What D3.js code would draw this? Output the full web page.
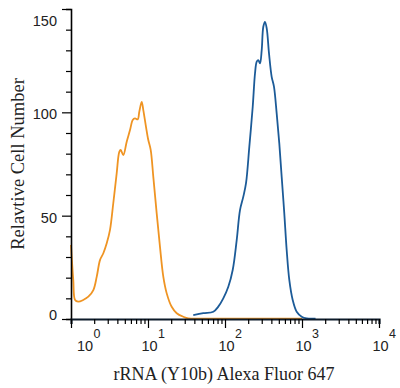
<!DOCTYPE html>
<html>
<head>
<meta charset="utf-8">
<script src="https://cdn.jsdelivr.net/npm/d3@7"></script>
<style>
  body { margin: 0; background: #fff; }
  svg { display: block; }
  .serif { font-family: "Liberation Serif", "Times New Roman", Times, serif; }
  .sans { font-family: "Liberation Sans", Arial, Helvetica, sans-serif; }
</style>
</head>
<body>
<svg id="chart" width="400" height="388"></svg>
<script>
// Orange histogram (control) : [intensity, cell count]
var orangeSeries = [
    [1.00, 35.8], [1.07, 18.9], [1.13, 9.2], [1.24, 8.4], [1.44, 9.2],
    [1.68, 10.8], [1.95, 14.0], [2.16, 20.5], [2.38, 28.5], [2.63, 31.8],
    [2.91, 36.6], [3.21, 43.1], [3.54, 56.0], [3.92, 70.5], [4.24, 80.9],
    [4.42, 81.8], [4.78, 79.3], [5.29, 85.8], [5.84, 91.4], [6.33, 96.3],
    [6.78, 97.1], [7.35, 96.6], [7.71, 100.3], [8.28, 105.1], [8.69, 101.1],
    [9.42, 93.0], [10.09, 86.6], [10.84, 81.8], [11.72, 68.8], [12.97, 51.1],
    [14.3, 35.0], [15.8, 20.5], [17.5, 12.4], [20.3, 5.9], [23.6, 2.8],
    [28.7, 1.1], [33.4, 0.3], [60, 0.2], [200, 0.2], [1000, 0.2]
];

// Blue histogram (stained)
var blueSeries = [
    [38.7, 1.9], [52.3, 2.8], [70.5, 3.5], [81.8, 6.0], [95.0, 10.0],
    [110.4, 15.6], [125.9, 23.7], [141.9, 38.2], [156.6, 52.7], [172.9, 59.2],
    [187.5, 65.7], [207.0, 83.4], [229.1, 102.7], [245.4, 118.9], [258.2, 124.5],
    [270.6, 125.3], [284.9, 123.7], [299.7, 130.1], [314.3, 141.4], [330.6, 143.8],
    [348.2, 140.6], [372.8, 128.5], [403.8, 117.2], [432.5, 112.4], [469.0, 99.5],
    [507.2, 85.0], [544.7, 68.8], [588.8, 51.1], [632.5, 33.4], [684.0, 18.9],
    [757.0, 9.2], [853.0, 3.5], [991, 1.1], [1151, 0.3], [1500, 0.2]
];

var xMajor = [1, 10, 100, 1000, 10000];
var yTicks = d3.range(0, 151, 10);
var yLabels = [0, 50, 100, 150];

var svg = d3.select("#chart");

// scales
var x = d3.scaleLog().domain([1, 10000]).range([71, 379]);
var y = d3.scaleLinear().domain([0, 150]).range([319, 9]);

var xMinor = [];
xMajor.slice(0, -1).forEach(function (d) {
    for (var k = 2; k < 10; k++) xMinor.push(d * k);
});

// curves
var line = d3.line()
    .x(d => x(d[0]))
    .y(d => y(d[1]))
    .curve(d3.curveCatmullRom.alpha(0.5));

svg.append("path")
    .datum(orangeSeries)
    .attr("fill", "none")
    .attr("stroke", "#ef9423")
    .attr("stroke-width", 1.8)
    .attr("d", line);

svg.append("path")
    .datum(blueSeries)
    .attr("fill", "none")
    .attr("stroke", "#1c5b98")
    .attr("stroke-width", 1.8)
    .attr("d", line);

// Y axis : major + minor ticks
var yAxisG = svg.append("g")
    .attr("transform", "translate(71,0)")
    .call(d3.axisLeft(y).tickValues(yTicks).tickSize(5).tickFormat(""));
yAxisG.selectAll(".tick line")
    .filter(d => d % 50 === 0)
    .attr("x2", -9);
yAxisG.select(".domain").attr("stroke-width", 1.6);
yAxisG.selectAll(".tick line").attr("stroke-width", 1.2);

svg.append("g")
    .selectAll("text")
    .data(yLabels)
    .join("text")
    .attr("class", "sans")
    .attr("x", 57)
    .attr("y", d => y(d) + (d === 150 ? 12 : d === 0 ? -4 : 2))
    .attr("dy", "0.35em")
    .attr("text-anchor", "end")
    .attr("font-size", 14.5)
    .attr("fill", "#222")
    .text(d => d);

// X axis : major + minor ticks
var xAxisG = svg.append("g")
    .attr("transform", "translate(0,319)")
    .call(d3.axisBottom(x).tickValues(xMajor.concat(xMinor)).tickSize(5).tickFormat(""));
xAxisG.selectAll(".tick line")
    .filter(d => xMajor.indexOf(d) >= 0)
    .attr("y2", 9);
xAxisG.select(".domain").attr("stroke-width", 2.2).attr("stroke", "#0d1b2a");
xAxisG.selectAll(".tick line").attr("stroke-width", 1.2);

// power-of-ten labels: base centred on tick, exponent raised to the right
var xLab = svg.append("g").attr("class", "sans")
    .attr("fill", "#222");
var labX = d => x(d) + (d === 1 ? 14 : 1.5);

xLab.selectAll("text.base")
    .data(xMajor)
    .join("text")
    .attr("class", "base")
    .attr("x", labX)
    .attr("y", 351)
    .attr("font-size", 14.5)
    .attr("text-anchor", "middle")
    .text("10");

xLab.selectAll("text.exp")
    .data(xMajor)
    .join("text")
    .attr("class", "exp")
    .attr("x", d => labX(d) + 8.5)
    .attr("y", 338)
    .attr("font-size", 12.5)
    .attr("text-anchor", "start")
    .text(d => Math.round(Math.log10(d)));

// axis titles
svg.append("text")
    .attr("class", "serif")
    .attr("x", 224)
    .attr("y", 380)
    .attr("text-anchor", "middle")
    .attr("font-size", 18)
    .attr("fill", "#222")
    .text("rRNA (Y10b) Alexa Fluor 647");

svg.append("text")
    .attr("class", "serif")
    .attr("transform", "translate(24,164) rotate(-90)")
    .attr("text-anchor", "middle")
    .attr("font-size", 18.5)
    .attr("fill", "#222")
    .text("Relavtive Cell Number");
</script>
</body>
</html>
